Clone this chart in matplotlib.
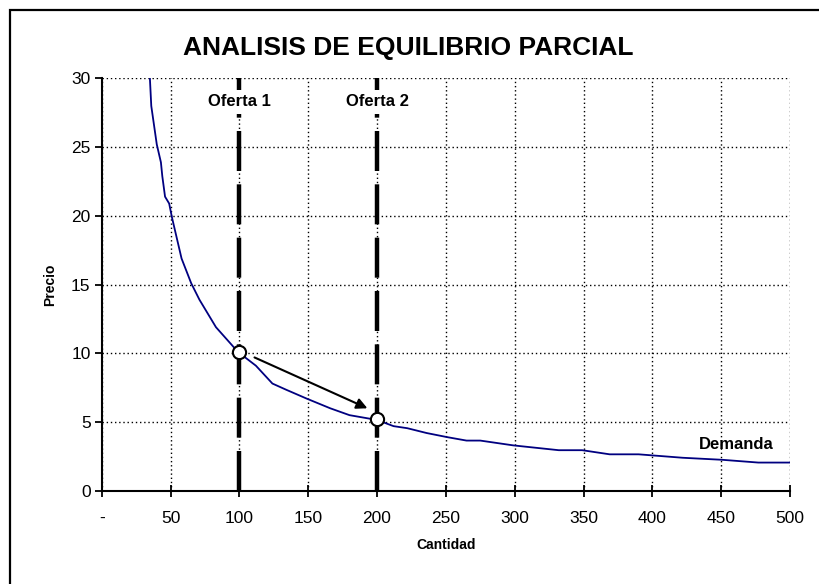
import numpy as np
import matplotlib
matplotlib.use("Agg")
import matplotlib.pyplot as plt
from matplotlib.patches import Rectangle

plt.rcParams['font.family'] = ['Liberation Sans', 'DejaVu Sans']

# demand curve
cantidad = [35, 36, 40, 43, 44, 46, 49, 51, 58, 65, 71, 83, 99, 112, 124,
            134, 149, 166, 180, 200, 212, 222, 236, 251, 265, 275, 299, 332,
            349, 369, 390, 422, 451, 477, 500]
precio = [30.0, 28.0, 25.2, 23.9, 22.9, 21.4, 20.9, 19.9, 16.9, 15.1, 13.9,
          11.9, 10.1, 9.1, 7.8, 7.35, 6.7, 6.0, 5.5, 5.15, 4.7, 4.55, 4.2,
          3.9, 3.65, 3.65, 3.3, 2.95, 2.95, 2.65, 2.65, 2.4, 2.25, 2.05, 2.05]

ofertas = [100, 200]
oferta_labels = ['Oferta 1', 'Oferta 2']
equilibrio_q = [100, 200]
equilibrio_p = [10.1, 5.2]

xticks = [0, 50, 100, 150, 200, 250, 300, 350, 400, 450, 500]
xticklabels = ['-'] + [str(v) for v in xticks[1:]]
yticks = [0, 5, 10, 15, 20, 25, 30]

fig = plt.figure(figsize=(8.19, 5.84), dpi=100)
ax = fig.add_axes([0.1242, 0.1597, 0.8404, 0.7059])

# outer frame of the chart
fig.patches.append(Rectangle((10/819, -0.1), 1.2, 1.1 - 10/584,
                             transform=fig.transFigure, fill=False,
                             edgecolor='black', linewidth=1.6, zorder=0))

ax.set_xlim(0, 500)
ax.set_ylim(0, 30)
ax.grid(True, color='black', linestyle=(0, (1, 2)), linewidth=1.0)
ax.set_axisbelow(True)
for s in ['top', 'right']:
    ax.spines[s].set_visible(False)
ax.spines['left'].set_linewidth(1.5)
ax.spines['bottom'].set_linewidth(1.5)

ax.set_xticks(xticks)
ax.set_xticklabels(xticklabels)
ax.set_yticks(yticks)
ax.tick_params(axis='x', direction='inout', length=9, width=1.3, labelsize=12.5, pad=10)
ax.tick_params(axis='y', direction='out', length=5, width=1.3, labelsize=12.5, pad=3)

for q, lab in zip(ofertas, oferta_labels):
    ax.axvline(q, color='black', linewidth=3.2, dashes=(9, 3), zorder=3)
    ax.text(q, 28.3, lab, ha='center', va='center', fontsize=12,
            fontweight='bold', zorder=4,
            bbox=dict(facecolor='white', edgecolor='none', pad=3))

ax.plot(cantidad, precio, color='#000080', linewidth=1.3, zorder=4)

ax.annotate('', xy=(193, 6.0), xytext=(111, 9.7),
            arrowprops=dict(arrowstyle='-|>', color='black', lw=1.5,
                            mutation_scale=16, shrinkA=0, shrinkB=0), zorder=5)

ax.plot(equilibrio_q, equilibrio_p, 'o', markersize=9.5, markerfacecolor='white',
        markeredgecolor='black', markeredgewidth=1.5, zorder=6)

ax.text(461, 3.35, 'Demanda', ha='center', va='center', fontsize=12,
        fontweight='bold')

fig.text(0.498, 1 - 48/584, 'ANALISIS DE EQUILIBRIO PARCIAL', ha='center',
         va='center', fontsize=19, fontweight='bold')
ax.set_xlabel('Cantidad', fontsize=10, fontweight='bold', labelpad=9)
ax.set_ylabel('Precio', fontsize=10, fontweight='bold', labelpad=10)

plt.savefig('out.png', dpi=100)
